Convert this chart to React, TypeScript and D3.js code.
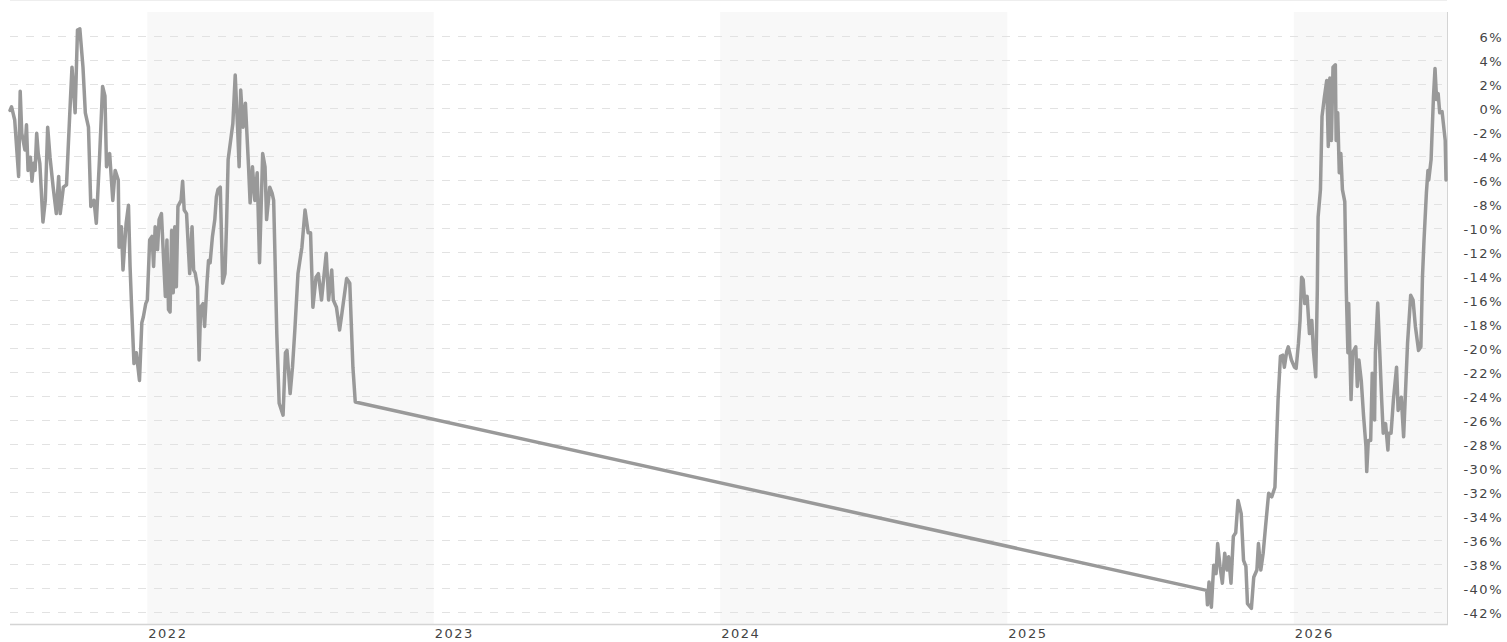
import React from "react";
import * as d3 from "d3";

// Day offsets are counted from the first trading day shown (10 Jul 2021).
const START_DATE = "2021-07-10";
const END_DAY = 1830;

// Period 1: Jul 2021 – Sep 2022
const seg1Days = [
  0, 2, 6, 11, 13, 15, 19, 21, 23, 26, 28, 30, 32, 34, 36, 38, 42, 45, 48, 51,
  55, 59, 62, 64, 68, 72, 77, 79, 83, 86, 89, 93, 96, 100, 103, 107, 110, 114, 118, 121,
  123, 127, 131, 134, 138, 139, 142, 144, 148, 151, 153, 155, 158, 161, 165,
  168, 170, 173, 175, 178, 181, 183, 185, 188, 190, 193, 195, 198, 200, 202, 204, 206, 208, 210, 212,
  214, 218, 220, 222, 225, 229, 232, 234, 236, 239, 241, 243, 246, 248, 251, 253, 255, 258, 261, 263,
  265, 268, 271, 274, 276, 278,
  284, 287, 290, 292, 294, 297, 300, 304, 306, 309, 312, 315, 318, 322, 325, 327, 331, 334, 336, 340,
  343, 348, 351, 353, 357, 360, 363, 367, 372, 376, 380, 383, 386, 390, 393, 397, 403, 406, 410, 412,
  416, 420, 423, 429, 433, 437, 440,
];
const seg1Pct = [
  -0.2, 0.1, -1.0, -5.7, 1.4, -2.1, -3.5, -1.4, -5.2, -4.1, -6.1, -4.6, -5.2, -2.1, -3.8, -4.6, -9.5, -7.7, -1.6, -4.1,
  -6.6, -8.8, -5.7, -8.8, -6.6, -6.4, 0.7, 3.4, -0.4, 6.5, 6.6, 3.4, -0.4, -1.6, -8.2, -7.7, -9.6, -4.3, 1.8, 1.0,
  -4.9, -3.8, -7.7, -5.2, -6.0, -11.6, -9.9, -13.5, -9.6, -8.1, -13.2, -16.6, -21.3, -20.4, -22.7,
  -17.9, -17.4, -16.3, -16.0, -11.0, -10.7, -13.2, -9.9, -11.8, -9.3, -8.8, -11.6, -15.7, -11.0, -16.8, -17.0, -10.2, -15.4, -9.9, -14.9,
  -8.2, -7.7, -6.1, -8.5, -8.8, -13.8, -9.9, -13.5, -13.75, -14.9, -21.0, -16.6, -16.3, -18.2, -14.6, -12.7, -12.9, -10.7, -9.3, -7.4,
  -6.8, -6.6, -14.6, -13.8, -9.6, -4.3,
  -1.3, 2.75, -1.6, -4.9, 1.5, -1.6, 0.4, -4.9, -7.9, -4.9, -7.7, -5.4, -12.9, -3.8, -4.9, -9.3, -6.6, -7.1, -7.7, -18.8,
  -24.6, -25.6, -20.4, -20.2, -23.8, -21.6, -18.5, -13.8, -11.6, -8.5, -10.4, -10.4, -16.6, -14.1, -13.8, -16.0, -12.1, -16.0, -13.5, -16.0,
  -16.6, -18.5, -17.1, -14.2, -14.6, -21.6, -24.5,
];

// Period 2: Sep 2025 – Jul 2026
const seg2Days = [
  1525, 1526, 1528, 1531, 1534, 1537, 1539, 1542, 1545, 1548, 1551, 1553, 1556, 1559, 1562, 1565, 1569, 1572, 1575, 1577,
  1582, 1585, 1589, 1591, 1594, 1597, 1600, 1604, 1608, 1612, 1614, 1616, 1619, 1622, 1624, 1627, 1629, 1633, 1637, 1639,
  1642, 1644, 1646, 1648, 1650, 1653, 1656, 1659, 1661, 1664, 1666, 1667, 1670, 1672, 1675, 1678, 1680, 1682, 1684, 1686,
  1689, 1690, 1692, 1694, 1696, 1698, 1701, 1703,
  1705, 1706, 1709, 1711, 1715, 1717, 1719, 1722, 1725, 1728, 1729, 1731, 1734, 1736, 1739, 1740, 1743, 1746, 1748, 1750,
  1753, 1756, 1757, 1760, 1763, 1767, 1769, 1773, 1776, 1779, 1781, 1785, 1788, 1791, 1795, 1798,
  1800, 1802, 1805, 1807, 1808, 1811, 1814, 1816, 1818, 1820, 1822, 1825, 1829, 1830,
];
const seg2Pct = [
  -40.2, -41.4, -39.5, -41.6, -38.1, -38.8, -36.3, -38.2, -39.6, -37.1, -38.5, -37.4, -39.6, -35.7, -35.4, -32.7, -33.8, -37.7, -38.2, -41.3,
  -41.7, -39.1, -38.5, -36.3, -38.5, -37.1, -34.9, -32.1, -32.4, -31.6, -27.9, -24.3, -20.7, -20.6, -21.6, -20.3, -19.9, -21.0, -21.6, -21.7,
  -19.6, -17.7, -14.1, -14.3, -16.3, -15.7, -18.8, -17.7, -20.2, -22.4, -15.2, -9.1, -6.8, -0.7, 0.9, 2.3, -3.2, 2.5, -2.7, 3.4,
  3.6, -2.7, -0.4, -5.4, -3.8, -6.8, -7.8, -15.4,
  -20.4, -16.3, -24.3, -20.4, -19.9, -23.2, -21.0, -22.7, -25.7, -28.2, -30.3, -27.7, -27.7, -22.1, -26.0, -20.4, -16.25, -21.0, -24.3, -27.1,
  -26.3, -28.5, -27.1, -27.1, -24.3, -21.6, -25.2, -24.1, -27.4, -22.7, -19.6, -15.6, -16.0, -18.2, -20.2, -19.9,
  -14.1, -11.0, -7.1, -5.2, -6.0, -4.3, 0.9, 3.3, 0.7, 1.2, -0.4, -0.3, -2.7, -6.0,
];

const yearTicks = [2022, 2023, 2024, 2025, 2026];
const shadedYears = [2022, 2024, 2026];
const pctTicks = [6, 4, 2, 0, -2, -4, -6, -8, -10, -12, -14, -16, -18, -20, -22, -24, -26, -28, -30, -32, -34, -36, -38, -40, -42];

const W = 1507;
const H = 642;
const LEFT = 10;
const RIGHT = 1447;
const TOP = 12;
const BOTTOM = 624;

export default function App() {
  const start = d3.timeParse("%Y-%m-%d")(START_DATE) as Date;
  const toDate = (d: number) => d3.timeDay.offset(start, d);
  const x = d3
    .scaleTime()
    .domain([start, toDate(END_DAY)])
    .range([LEFT, 1446]);
  const y = d3.scaleLinear().domain([-42, 6]).range([612, 36]);

  const data: [Date, number][] = [
    ...seg1Days.map((d, i) => [toDate(d), seg1Pct[i]] as [Date, number]),
    ...seg2Days.map((d, i) => [toDate(d), seg2Pct[i]] as [Date, number]),
  ];
  const line = d3
    .line<[Date, number]>()
    .x((p) => x(p[0]))
    .y((p) => y(p[1]));

  const font = "'DejaVu Sans', Verdana, sans-serif";

  return (
    <svg
      width={W}
      height={H}
      style={{ position: "absolute", left: 0, top: 0, display: "block", background: "#fff" }}
    >
      {shadedYears.map((yr) => {
        const x0 = Math.max(LEFT, x(new Date(yr, 0, 1)));
        const x1 = Math.min(RIGHT, x(new Date(yr + 1, 0, 1)));
        return (
          <rect key={yr} x={x0} y={TOP} width={Math.max(0, x1 - x0)} height={BOTTOM - TOP} fill="#f8f8f8" />
        );
      })}
      <line x1={LEFT} x2={RIGHT} y1={0.5} y2={0.5} stroke="#eeeeee" />
      {pctTicks.map((v) => (
        <line
          key={v}
          x1={LEFT}
          x2={RIGHT}
          y1={Math.round(y(v)) + 0.5}
          y2={Math.round(y(v)) + 0.5}
          stroke="#e2e2e2"
          strokeDasharray="8,8"
        />
      ))}
      <line x1={RIGHT + 0.5} x2={RIGHT + 0.5} y1={TOP} y2={BOTTOM} stroke="#d4d4d4" />
      <line x1={LEFT} x2={RIGHT + 1} y1={BOTTOM + 0.5} y2={BOTTOM + 0.5} stroke="#d4d4d4" strokeWidth={1.5} />
      <path
        d={line(data) || ""}
        fill="none"
        stroke="#999999"
        strokeWidth={3.5}
        strokeLinejoin="round"
        strokeLinecap="round"
      />
      {pctTicks.map((v) => (
        <text
          key={v}
          x={1503}
          y={y(v) + 1}
          dy="0.35em"
          textAnchor="end"
          fontFamily={font}
          fontSize={13}
          letterSpacing={1.5}
          fill="#444"
        >
          {`${v}%`}
        </text>
      ))}
      {yearTicks.map((yr) => (
        <text
          key={yr}
          x={x(new Date(yr, 0, 1)) + 1}
          y={638}
          fontFamily={font}
          fontSize={13}
          letterSpacing={1.5}
          fill="#444"
        >
          {String(yr)}
        </text>
      ))}
    </svg>
  );
}
